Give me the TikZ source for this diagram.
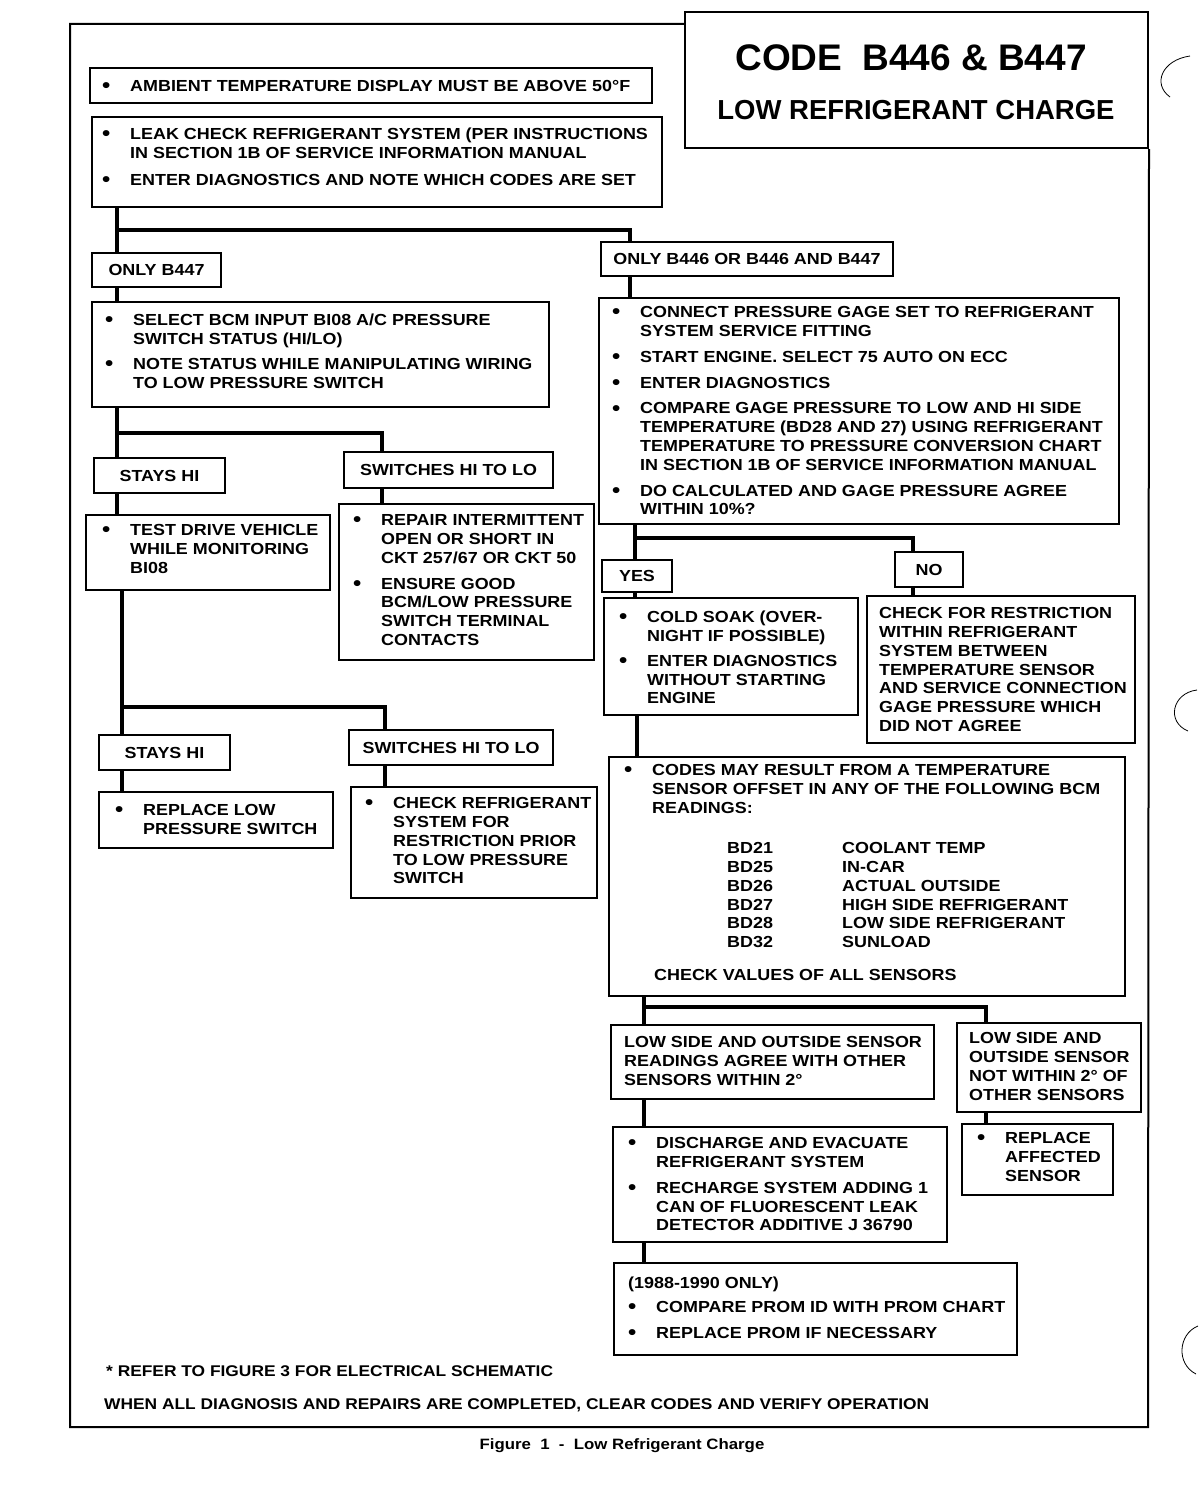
\documentclass[tikz,border=0pt]{standalone}
\usepackage{fontspec}
\setmainfont{Liberation Sans}
\newfontfamily\bodyfont[FakeStretch=1.12]{Liberation Sans}
\newfontfamily\titlefont{Liberation Sans}
\usetikzlibrary{fit}

\newcommand{\BU}{\makebox[28pt][l]{\raisebox{-1.2pt}{\fontsize{21}{21}\selectfont\textbullet}}}
\newcommand{\TB}[1]{\begin{tabular}{@{}l@{}l@{}}#1\end{tabular}}

\tikzset{
  box/.style={draw, line width=2.4pt, inner sep=0pt},
  lbl/.style={inner sep=0pt, font=\bodyfont\bfseries\fontsize{16}{18.8}\selectfont},
  conn/.style={line width=4pt},
  txt/.style={anchor=north west, inner sep=0pt, font=\bodyfont\bfseries\fontsize{16}{18.8}\selectfont},
  onetxt/.style={anchor=base west, inner sep=0pt, font=\bodyfont\bfseries\fontsize{16}{18.8}\selectfont},
  frame/.style={line width=2pt},
  punch/.style={line width=0.8pt},
}

\begin{document}
\begin{tikzpicture}[x=1pt,y=-1pt]
\useasboundingbox (0,0) rectangle (1200,1504);

% ---------- frame and title ----------
\node[draw, line width=2pt, inner sep=0pt, fit={(685,12) (1148,148)}] (title) {};
\node[font=\titlefont\bfseries\fontsize{37}{40}\selectfont, inner sep=0pt] (t1) at (911,58) {CODE\hspace{0.55em}B446 \& B447};
\node[font=\titlefont\bfseries\fontsize{27.5}{30}\selectfont, inner sep=0pt] (t2) at (916,110) {LOW REFRIGERANT CHARGE};
\draw[frame] (title.north west |- 0,24) -- (70,24) -- (70,1427) -- (1148,1427) -- (title.south east);

% ---------- boxes ----------
\node[box, fit={(90,68) (652,103)}] (amb) {};
\node[box, fit={(92,117) (662,207)}] (leak) {};
\node[box, fit={(92,253) (221,287)}] (b447) {};
\node[box, fit={(601,242) (893,276)}] (b446) {};
\node[box, fit={(92,302) (549,407)}] (sel) {};
\node[box, fit={(94,458) (225,493)}] (hi1) {};
\node[box, fit={(344,452) (553,488)}] (sw1) {};
\node[box, fit={(86,515) (330,590)}] (drv) {};
\node[box, fit={(339,504) (594,660)}] (rep) {};
\node[box, fit={(99,735) (230,770)}] (hi2) {};
\node[box, fit={(349,730) (553,765)}] (sw2) {};
\node[box, fit={(99,792) (333,848)}] (rls) {};
\node[box, fit={(351,787) (597,898)}] (chk) {};
\node[box, fit={(599,298) (1119,524)}] (con) {};
\node[box, fit={(602,560) (672,592)}] (yes) {};
\node[box, fit={(895,552) (963,587)}] (no) {};
\node[box, fit={(604,598) (858,715)}] (cold) {};
\node[box, fit={(867,596) (1135,743)}] (res) {};
\node[box, fit={(609,757) (1125,996)}] (codes) {};
\node[box, fit={(611,1025) (934,1099)}] (agree) {};
\node[box, fit={(957,1023) (1141,1112)}] (notw) {};
\node[box, fit={(613,1127) (947,1242)}] (dis) {};
\node[box, fit={(962,1124) (1113,1195)}] (raf) {};
\node[box, fit={(614,1263) (1017,1355)}] (prom) {};

% ---------- label texts ----------
\node[lbl] (lb447) at (b447) {ONLY B447};
\node[lbl] (lb446) at (b446) {ONLY B446 OR B446 AND B447};
\node[lbl] (lhi1) at (hi1) {STAYS HI};
\node[lbl] (lsw1) at (sw1) {SWITCHES HI TO LO};
\node[lbl] (lhi2) at (hi2) {STAYS HI};
\node[lbl] (lsw2) at (sw2) {SWITCHES HI TO LO};
\node[lbl] (lyes) at (yes) {YES};
\node[lbl] (lno) at (no) {NO};

% ---------- texts ----------
\node[txt] (tamb) at (102,78.4) {\TB{\BU & AMBIENT TEMPERATURE DISPLAY MUST BE ABOVE 50°F}};
\node[txt] (tleak) at (102,126.4) {\TB{%
\BU & LEAK CHECK REFRIGERANT SYSTEM (PER INSTRUCTIONS\\
    & IN SECTION 1B OF SERVICE INFORMATION MANUAL\\[8pt]
\BU & ENTER DIAGNOSTICS AND NOTE WHICH CODES ARE SET}};
\node[txt] (tsel) at (105,312.4) {\TB{%
\BU & SELECT BCM INPUT BI08 A/C PRESSURE\\
    & SWITCH STATUS (HI/LO)\\[6pt]
\BU & NOTE STATUS WHILE MANIPULATING WIRING\\
    & TO LOW PRESSURE SWITCH}};
\node[txt] (tdrv) at (102,522.4) {\TB{%
\BU & TEST DRIVE VEHICLE\\
    & WHILE MONITORING\\
    & BI08}};
\node[txt] (trep) at (353,512.4) {\TB{%
\BU & REPAIR INTERMITTENT\\
    & OPEN OR SHORT IN\\
    & CKT 257/67 OR CKT 50\\[7pt]
\BU & ENSURE GOOD\\
    & BCM/LOW PRESSURE\\
    & SWITCH TERMINAL\\
    & CONTACTS}};
\node[txt] (trls) at (115,802.4) {\TB{%
\BU & REPLACE LOW\\
    & PRESSURE SWITCH}};
\node[txt] (tchk) at (365,795.4) {\TB{%
\BU & CHECK REFRIGERANT\\
    & SYSTEM FOR\\
    & RESTRICTION PRIOR\\
    & TO LOW PRESSURE\\
    & SWITCH}};
\node[txt] (tcon) at (612,304.4) {\TB{%
\BU & CONNECT PRESSURE GAGE SET TO REFRIGERANT\\
    & SYSTEM SERVICE FITTING\\[7pt]
\BU & START ENGINE. SELECT 75 AUTO ON ECC\\[7pt]
\BU & ENTER DIAGNOSTICS\\[7pt]
\BU & COMPARE GAGE PRESSURE TO LOW AND HI SIDE\\
    & TEMPERATURE (BD28 AND 27) USING REFRIGERANT\\
    & TEMPERATURE TO PRESSURE CONVERSION CHART\\
    & IN SECTION 1B OF SERVICE INFORMATION MANUAL\\[7pt]
\BU & DO CALCULATED AND GAGE PRESSURE AGREE\\
    & WITHIN 10\%?}};
\node[txt] (tcold) at (619,609.4) {\TB{%
\BU & COLD SOAK (OVER-\\
    & NIGHT IF POSSIBLE)\\[6pt]
\BU & ENTER DIAGNOSTICS\\
    & WITHOUT STARTING\\
    & ENGINE}};
\node[txt] (tres) at (879,605.4) {\TB{%
CHECK FOR RESTRICTION\\
WITHIN REFRIGERANT\\
SYSTEM BETWEEN\\
TEMPERATURE SENSOR\\
AND SERVICE CONNECTION\\
GAGE PRESSURE WHICH\\
DID NOT AGREE}};
\node[txt] (tcodes) at (624,762.4) {\TB{%
\BU & CODES MAY RESULT FROM A TEMPERATURE\\
    & SENSOR OFFSET IN ANY OF THE FOLLOWING BCM\\
    & READINGS:}};
\node[txt] (ttab) at (727,840.4) {\TB{%
\makebox[115pt][l]{BD21} & COOLANT TEMP\\
\makebox[115pt][l]{BD25} & IN-CAR\\
\makebox[115pt][l]{BD26} & ACTUAL OUTSIDE\\
\makebox[115pt][l]{BD27} & HIGH SIDE REFRIGERANT\\
\makebox[115pt][l]{BD28} & LOW SIDE REFRIGERANT\\
\makebox[115pt][l]{BD32} & SUNLOAD}};
\node[onetxt] (tcheck) at (654,980.7) {CHECK VALUES OF ALL SENSORS};
\node[txt] (tagree) at (624,1034.4) {\TB{%
LOW SIDE AND OUTSIDE SENSOR\\
READINGS AGREE WITH OTHER\\
SENSORS WITHIN 2°}};
\node[txt] (tnotw) at (969,1030.4) {\TB{%
LOW SIDE AND\\
OUTSIDE SENSOR\\
NOT WITHIN 2° OF\\
OTHER SENSORS}};
\node[txt] (tdis) at (628,1135.4) {\TB{%
\BU & DISCHARGE AND EVACUATE\\
    & REFRIGERANT SYSTEM\\[7pt]
\BU & RECHARGE SYSTEM ADDING 1\\
    & CAN OF FLUORESCENT LEAK\\
    & DETECTOR ADDITIVE J 36790}};
\node[txt] (traf) at (977,1130.4) {\TB{%
\BU & REPLACE\\
    & AFFECTED\\
    & SENSOR}};
\node[txt] (tprom) at (628,1275.4) {\TB{%
\multicolumn{2}{@{}l@{}}{(1988-1990 ONLY)}\\[5pt]
\BU & COMPARE PROM ID WITH PROM CHART\\[7pt]
\BU & REPLACE PROM IF NECESSARY}};

% footer
\node[onetxt, font=\bodyfont\bfseries\fontsize{15.5}{18}\selectfont] (fref) at (106,1376.5) {* REFER TO FIGURE 3 FOR ELECTRICAL SCHEMATIC};
\node[onetxt, font=\bodyfont\bfseries\fontsize{15.5}{18}\selectfont] (fwhen) at (104,1409) {WHEN ALL DIAGNOSIS AND REPAIRS ARE COMPLETED, CLEAR CODES AND VERIFY OPERATION};
\node[inner sep=0pt, font=\bodyfont\bfseries\fontsize{15}{18}\selectfont] (cap) at (622,1446) {Figure\ \ 1\ \ -\ \ Low Refrigerant Charge};

% ---------- connectors ----------
\coordinate (j1) at (117,230); \coordinate (k1) at (630,230);
\coordinate (j2) at (117,433); \coordinate (k2) at (382,433);
\coordinate (j3) at (122,707); \coordinate (k3) at (385,707);
\coordinate (j4) at (635,538); \coordinate (k4) at (913,538);
\coordinate (j5) at (637,740);
\coordinate (j6) at (644,1007); \coordinate (k6) at (986,1007);

\draw[conn] (leak.south -| j1) -- (b447.north -| j1);
\draw[conn] (j1) -- (k1) -- (b446.north -| k1);
\draw[conn] (b447.south -| j1) -- (sel.north -| j1);
\draw[conn] (b446.south -| k1) -- (con.north -| k1);

\draw[conn] (sel.south -| j2) -- (hi1.north -| j2);
\draw[conn] (j2) -- (k2) -- (sw1.north -| k2);
\draw[conn] (hi1.south -| j2) -- (drv.north -| j2);
\draw[conn] (sw1.south -| k2) -- (rep.north -| k2);

\draw[conn] (drv.south -| j3) -- (hi2.north -| j3);
\draw[conn] (j3) -- (k3) -- (sw2.north -| k3);
\draw[conn] (hi2.south -| j3) -- (rls.north -| j3);
\draw[conn] (sw2.south -| k3) -- (chk.north -| k3);

\draw[conn] (con.south -| j4) -- (yes.north -| j4);
\draw[conn] (j4) -- (k4) -- (no.north -| k4);
\draw[conn] (yes.south -| j4) -- (cold.north -| j4);
\draw[conn] (no.south -| k4) -- (res.north -| k4);
\draw[conn] (cold.south -| j5) -- (codes.north -| j5);

\draw[conn] (codes.south -| j6) -- (agree.north -| j6);
\draw[conn] (j6) -- (k6) -- (notw.north -| k6);
\draw[conn] (agree.south -| j6) -- (dis.north -| j6);
\draw[conn] (notw.south -| k6) -- (raf.north -| k6);
\draw[conn] (dis.south -| j6) -- (prom.north -| j6);

% ---------- punch-hole marks ----------
\draw[punch] (1190,56) .. controls (1162,60) and (1152,84) .. (1170,97);
\draw[punch] (1197,690) .. controls (1172,693) and (1166,722) .. (1188,731);
\draw[punch] (1198,1326) .. controls (1178,1334) and (1176,1364) .. (1196,1374);
\end{tikzpicture}
\end{document}
